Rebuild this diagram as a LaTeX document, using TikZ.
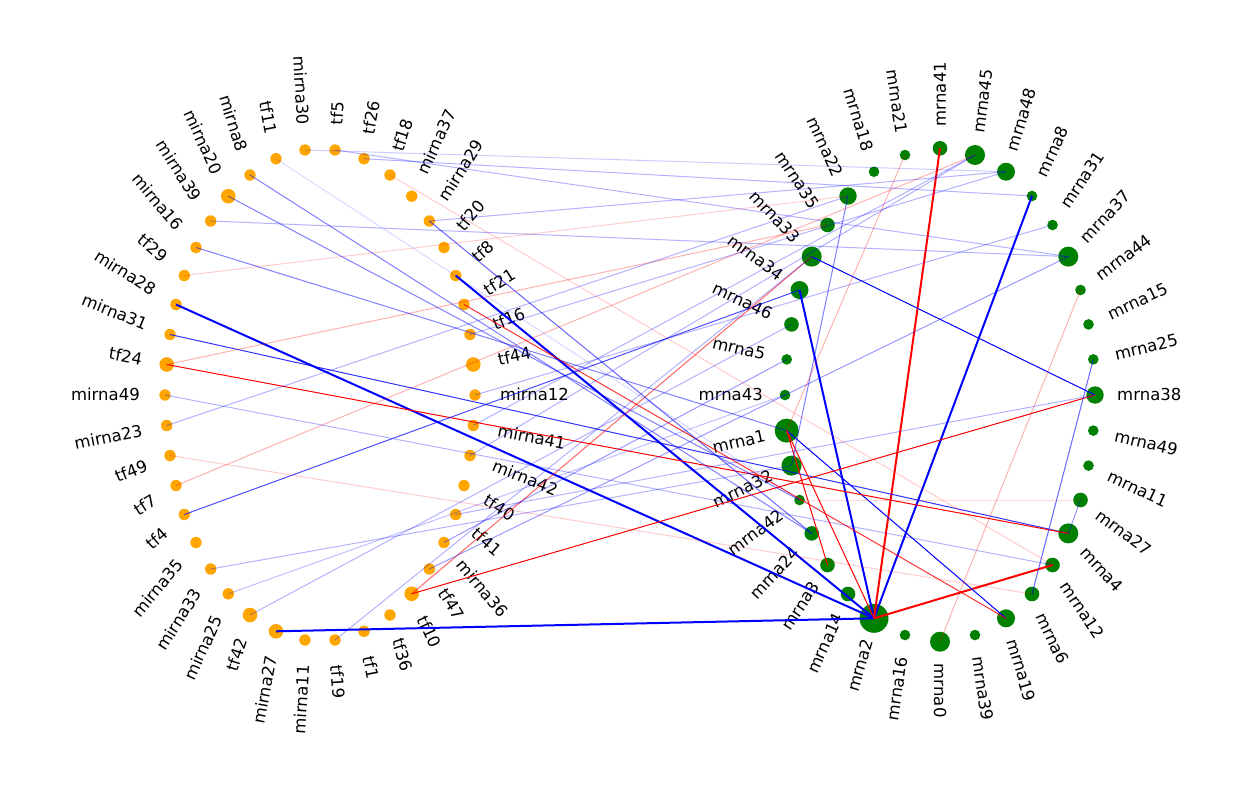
\documentclass[tikz,border=0pt]{standalone}
\usepackage{fontspec}
\setmainfont{DejaVu Sans}
\usetikzlibrary{calc}

\definecolor{regorange}{HTML}{FFA500}
\definecolor{genegreen}{HTML}{008000}

\tikzset{
  regnode/.style={circle,fill=regorange,inner sep=0pt,minimum size=#1},
  genenode/.style={circle,fill=genegreen,inner sep=0pt,minimum size=#1},
  namelabel/.style={font=\fontsize{16.5}{19}\selectfont,inner sep=0pt,text height=11.8pt,text depth=0pt},
  upedge/.style={blue,line width=#1},
  downedge/.style={red,line width=#1},
}

\begin{document}
\begin{tikzpicture}[x=1pt,y=-1pt]
\useasboundingbox (0,0) rectangle (1260,790);

% left ring: tf and mirna
\foreach \nm/\px/\py/\sz in {mirna12/475/395/11.4, tf44/473.3/364.5/14.6, tf16/470/334.5/11.4,
  tf21/464/304.5/11.4, tf8/455.7/275.5/11.4, tf20/444/247.5/11.4, mirna29/429.3/221/11.4,
  mirna37/411.7/196.2/11.4, tf18/390/175/11.4, tf26/364/158.7/11.4, tf5/335/150/11.4,
  mirna30/305/150/11.4, tf11/276/158.7/11.4, mirna8/250/175/11.4, mirna20/228.3/196.2/14.6,
  mirna39/210.7/221/11.4, mirna16/196/247.5/11.4, tf29/184.3/275.5/11.4, mirna28/176/304.5/11.4,
  mirna31/170/334.5/11.4, tf24/166.7/364.5/14.6, mirna49/165/395/11.4, mirna23/166.7/425.5/11.4,
  tf49/170/455.5/11.4, tf7/176/485.5/11.4, tf4/184.3/514.5/11.4, mirna35/196/542.5/11.4,
  mirna33/210.7/569/11.4, mirna25/228.3/593.8/11.4, tf42/250/615/14.6, mirna27/276/631.3/14.6,
  mirna11/305/640/11.4, tf19/335/640/11.4, tf1/364/631.3/11.4, tf36/390/615/11.4,
  tf10/411.7/593.8/14.6, tf47/429.3/569/11.4, mirna36/444/542.5/11.4, tf41/455.7/514.5/11.4,
  tf40/464/485.5/11.4, mirna42/470/455.5/11.4, mirna41/473.3/425.5/11.4}{
  \node[regnode=\sz pt] (\nm) at (\px,\py) {};
  \pgfmathsetmacro\ang{atan2(395-\py,\px-320)}
  \pgfmathtruncatemacro\flip{abs(\ang)>90}
  \pgfmathsetmacro\rot{\ang+180}
  \ifnum\flip=1
    \node[namelabel,anchor=east,rotate=\rot] (\nm-lab) at ($(\nm)+(\ang:25pt)$) {\nm};
  \else
    \node[namelabel,anchor=west,rotate=\ang] (\nm-lab) at ($(\nm)+(\ang:25pt)$) {\nm};
  \fi
}

% right ring: mrna
\foreach \nm/\px/\py/\sz in {mrna38/1095/395/17.4, mrna25/1093.3/359.4/10.6, mrna15/1088.5/324.4/10.6,
  mrna44/1080.5/290/10.6, mrna37/1068.3/256.6/20, mrna31/1052.5/225/10.6, mrna8/1032/196/10.6,
  mrna48/1006/171.7/18, mrna45/975/155/20, mrna41/940/148.3/14.6, mrna21/905/155/10.6,
  mrna18/874/171.7/10.6, mrna22/848/196/17.4, mrna35/827.5/225/14.6, mrna33/811.7/256.6/20,
  mrna34/799.5/290/18, mrna46/791.5/324.4/14.6, mrna5/786.7/359.4/10.6, mrna43/785/395/10.6,
  mrna1/786.7/430.6/24, mrna32/791.5/465.6/20, mrna42/799.5/500/10.6, mrna24/811.7/533.4/14.6,
  mrna3/827.5/565/14.6, mrna14/848/594/14.6, mrna2/874/618.3/29, mrna16/905/635/10.6,
  mrna0/940/641.7/20, mrna39/975/635/10.6, mrna19/1006/618.3/18, mrna6/1032/594/14.6,
  mrna12/1052.5/565/14.6, mrna4/1068.3/533.4/20, mrna27/1080.5/500/14.6, mrna11/1088.5/465.6/10.6,
  mrna49/1093.3/430.6/10.6}{
  \node[genenode=\sz pt] (\nm) at (\px,\py) {};
  \pgfmathsetmacro\ang{atan2(395-\py,\px-940)}
  \pgfmathtruncatemacro\flip{abs(\ang)>90}
  \pgfmathsetmacro\rot{\ang+180}
  \ifnum\flip=1
    \node[namelabel,anchor=east,rotate=\rot] (\nm-lab) at ($(\nm)+(\ang:22pt)$) {\nm};
  \else
    \node[namelabel,anchor=west,rotate=\ang] (\nm-lab) at ($(\nm)+(\ang:22pt)$) {\nm};
  \fi
}

% strong links into mrna2
\draw[upedge=2pt] (tf8.center) -- (mrna2.center);
\draw[upedge=2pt] (mirna28.center) -- (mrna2.center);
\draw[upedge=2pt] (mirna27.center) -- (mrna2.center);
\draw[upedge=2pt] (mrna34.center) -- (mrna2.center);
\draw[upedge=2pt] (mrna8.center) -- (mrna2.center);
\draw[downedge=2pt] (mrna41.center) -- (mrna2.center);
\draw[downedge=2pt] (mrna12.center) -- (mrna2.center);

% medium links
\draw[upedge=1pt] (mrna33.center) -- (mrna38.center);
\draw[upedge=1pt] (mrna1.center) -- (mrna19.center);
\draw[upedge=1pt,draw opacity=0.8] (mirna31.center) -- (mrna4.center);
\draw[downedge=1pt] (tf24.center) -- (mrna4.center);
\draw[downedge=1pt] (tf10.center) -- (mrna38.center);
\draw[downedge=1pt] (mrna1.center) -- (mrna3.center);
\draw[downedge=1pt] (mrna1.center) -- (mrna2.center);
\draw[downedge=1pt,draw opacity=0.8] (tf21.center) -- (mrna19.center);
\draw[upedge=1pt,draw opacity=0.7] (tf4.center) -- (mrna34.center);
\draw[upedge=1pt,draw opacity=0.5] (mrna22.center) -- (mrna32.center);
\draw[upedge=1pt,draw opacity=0.6] (mrna6.center) -- (mrna25.center);
\draw[downedge=1pt,draw opacity=0.6] (tf10.center) -- (mrna33.center);

% faint links
\draw[upedge=1pt,draw opacity=0.2] (mirna30.center) -- (mrna48.center);
\draw[upedge=1pt,draw opacity=0.3] (mirna39.center) -- (mrna37.center);
\draw[downedge=1pt,draw opacity=0.2] (tf29.center) -- (mrna22.center);
\draw[downedge=1pt,draw opacity=0.3] (tf24.center) -- (mrna35.center);
\draw[upedge=1pt,draw opacity=0.3] (mirna49.center) -- (mrna12.center);
\draw[upedge=1pt,draw opacity=0.3] (mirna23.center) -- (mrna22.center);
\draw[downedge=1pt,draw opacity=0.2] (tf49.center) -- (mrna6.center);
\draw[downedge=1pt,draw opacity=0.3] (tf7.center) -- (mrna45.center);
\draw[upedge=1pt,draw opacity=0.3] (mirna33.center) -- (mrna32.center);
\draw[downedge=1pt,draw opacity=0.3] (mrna44.center) -- (mrna0.center);
\draw[downedge=1pt,draw opacity=0.15] (mrna42.center) -- (mrna27.center);
\draw[upedge=1pt,draw opacity=0.4] (mrna27.center) -- (mrna4.center);
\draw[downedge=1pt,draw opacity=0.3] (mrna21.center) -- (mrna1.center);
\draw[upedge=1pt,draw opacity=0.5] (mirna20.center) -- (mrna42.center);
\draw[upedge=1pt,draw opacity=0.5] (mirna8.center) -- (mrna24.center);
\draw[upedge=1pt,draw opacity=0.5] (mirna16.center) -- (mrna1.center);
\draw[upedge=1pt,draw opacity=0.3] (tf41.center) -- (mrna38.center);
\draw[upedge=1pt,draw opacity=0.4] (mirna36.center) -- (mrna5.center);
\draw[upedge=1pt,draw opacity=0.4] (tf47.center) -- (mrna37.center);
\draw[upedge=1pt,draw opacity=0.3] (mirna12.center) -- (mrna31.center);
\draw[upedge=1pt,draw opacity=0.3] (tf19.center) -- (mrna33.center);
\draw[upedge=1pt,draw opacity=0.3] (tf5.center) -- (mrna37.center);
\draw[upedge=1pt,draw opacity=0.3] (tf26.center) -- (mrna8.center);
\draw[downedge=1pt,draw opacity=0.2] (tf18.center) -- (mrna12.center);
\draw[upedge=1pt,draw opacity=0.3] (mirna29.center) -- (mrna48.center);
\draw[upedge=1pt,draw opacity=0.6] (mirna29.center) -- (mrna24.center);
\draw[upedge=1pt,draw opacity=0.15] (tf11.center) -- (mrna42.center);
\draw[upedge=1pt,draw opacity=0.3] (tf16.center) -- (mrna48.center);
\draw[upedge=1pt,draw opacity=0.3] (mirna42.center) -- (mrna45.center);
\draw[upedge=1pt,draw opacity=0.3] (mirna41.center) -- (mrna45.center);
\draw[upedge=1pt,draw opacity=0.3] (tf42.center) -- (mrna46.center);
\draw[upedge=1pt,draw opacity=0.25] (mirna25.center) -- (mrna43.center);
\end{tikzpicture}
\end{document}
